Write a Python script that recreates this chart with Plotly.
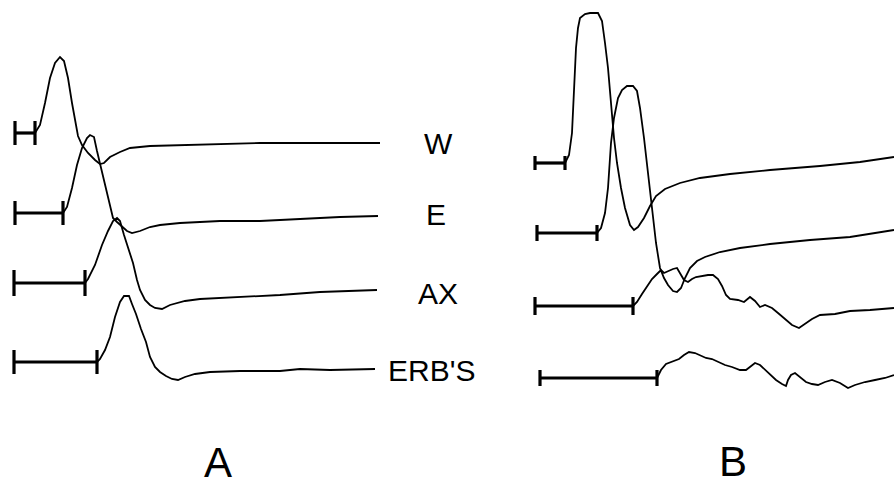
import plotly.graph_objects as go

# ---------------- data ----------------
labels = ["W", "E", "AX", "ERB'S"]
panel_names = ["A", "B"]

# Panel A: baseline level, scale-bar start/end, waveform time + amplitude
A_baseline = [133, 213, 283, 362]
A_bar_start = [15, 15, 14, 14]
A_bar_end = [35, 63, 85, 97]
A_t = [
    [35, 40, 45, 50, 55, 60, 64, 68, 72, 76, 78, 82, 88, 95, 100, 104, 110, 120, 130, 150, 180, 220, 260, 300, 340, 380],
    [63, 67, 72, 77, 82, 87, 90, 94, 97, 101, 106, 110, 113, 117, 122, 127, 132, 140, 150, 160, 180, 220, 260, 300, 340, 378],
    [85, 88, 95, 102, 108, 113, 117, 120, 124, 128, 133, 137, 140, 145, 150, 155, 162, 170, 185, 200, 240, 280, 320, 377],
    [97, 100, 105, 110, 115, 120, 124, 129, 132, 136, 141, 146, 150, 155, 160, 166, 172, 178, 185, 195, 210, 240, 280, 300, 330, 375],
]
A_v = [
    [0, 8, 30, 55, 70, 76, 72, 55, 30, 10, -3, -12, -20, -27, -31, -30, -24, -19, -15, -13, -12, -11, -10, -10, -10, -10],
    [0, 6, 25, 48, 65, 75, 78, 76, 62, 45, 25, 5, -5, -9, -14, -18, -20, -18, -14, -12, -10, -8, -8, -6, -4, -3],
    [0, 4, 18, 38, 52, 62, 65, 62, 48, 35, 20, 3, -7, -17, -22, -25, -26, -22, -18, -16, -14, -12, -9, -7],
    [0, 3, 12, 25, 45, 60, 66, 66, 58, 48, 33, 20, 5, -5, -10, -14, -17, -18, -15, -12, -10, -9, -9, -7, -8, -7],
]

# Panel B
B_baseline = [163, 233, 306, 378]
B_bar_start = [535, 537, 535, 540]
B_bar_end = [565, 597, 633, 657]
B_t = [
    [565, 569, 572, 574, 576, 578, 580, 585, 590, 598, 602, 605, 608, 611, 614, 617, 621, 625, 630, 634, 638, 644, 650, 656, 665, 680, 700, 730, 770, 820, 860, 894],
    [597, 601, 605, 608, 611, 614, 618, 622, 627, 633, 637, 640, 644, 648, 652, 656, 660, 664, 668, 673, 677, 681, 685, 690, 697, 705, 720, 740, 770, 810, 850, 894],
    [633, 637, 642, 647, 652, 657, 661, 664, 668, 673, 677, 680, 684, 688, 692, 696, 702, 708, 713, 718, 722, 726, 730, 738, 744, 750, 755, 760, 765, 772, 778, 785, 792, 799, 805, 812, 820, 835, 850, 870, 894],
    [657, 661, 666, 672, 679, 684, 689, 695, 700, 706, 712, 718, 725, 732, 740, 746, 750, 755, 760, 765, 770, 776, 782, 786, 788, 791, 795, 800, 806, 812, 818, 825, 832, 840, 848, 855, 865, 875, 885, 894],
]
B_v = [
    [0, 8, 30, 70, 115, 135, 145, 149, 150, 150, 142, 120, 95, 60, 25, 0, -25, -45, -62, -67, -64, -55, -43, -33, -26, -20, -15, -11, -7, -3, 1, 6],
    [0, 5, 20, 45, 90, 115, 135, 143, 147, 147, 142, 125, 95, 60, 20, -10, -35, -45, -52, -58, -59, -55, -45, -35, -28, -24, -19, -15, -11, -7, -4, 3],
    [0, 4, 12, 20, 27, 32, 36, 33, 35, 37, 38, 33, 26, 24, 27, 29, 30, 31, 31, 27, 20, 11, 7, 6, 4, 9, 5, -1, 1, -2, -7, -13, -19, -22, -18, -13, -9, -8, -5, -4, -2],
    [0, 8, 14, 16, 19, 23, 26, 25, 23, 20, 19, 16, 13, 11, 8, 8, 11, 15, 13, 8, 3, -2, -6, -8, -2, 3, 5, 1, -4, -6, -7, -4, -2, -5, -10, -7, -4, -2, 0, 3],
]
A_tick_half = [12, 12, 13, 12]
B_tick_half = [7, 8, 9, 8]

# ---------------- figure ----------------
fig = go.Figure()
line_col = "black"

def add_panel(baselines, bstart, bend, ts, vs, half):
    for i in range(len(baselines)):
        base = baselines[i]
        fig.add_trace(go.Scatter(
            x=ts[i], y=[base - v for v in vs[i]], mode="lines",
            line=dict(color=line_col, width=1.8), hoverinfo="skip", showlegend=False))
        bx = [bstart[i], bend[i], None, bstart[i], bstart[i], None, bend[i], bend[i]]
        by = [base, base, None, base - half[i], base + half[i], None, base - half[i], base + half[i]]
        fig.add_trace(go.Scatter(
            x=bx, y=by, mode="lines",
            line=dict(color=line_col, width=3.2), hoverinfo="skip", showlegend=False))

add_panel(A_baseline, A_bar_start, A_bar_end, A_t, A_v, A_tick_half)
add_panel(B_baseline, B_bar_start, B_bar_end, B_t, B_v, B_tick_half)

label_x = [438, 436, 438, 431]
label_y = [143, 214, 293, 370]
for lab, lx, ly in zip(labels, label_x, label_y):
    fig.add_annotation(x=lx, y=ly, text=lab, showarrow=False,
                       font=dict(family="Liberation Sans, Arial, sans-serif", size=30, color="black"),
                       xanchor="center", yanchor="middle")

for name, px, py in zip(panel_names, [218, 733], [462, 461]):
    fig.add_annotation(x=px, y=py, text=name, showarrow=False,
                       font=dict(family="Liberation Sans, Arial, sans-serif", size=42, color="black"),
                       xanchor="center", yanchor="middle")

fig.update_xaxes(range=[0, 894], visible=False, fixedrange=True)
fig.update_yaxes(range=[487, 0], visible=False, fixedrange=True)
fig.update_layout(width=894, height=487, margin=dict(l=0, r=0, t=0, b=0),
                  plot_bgcolor="white", paper_bgcolor="white")

fig.write_html("out.html")
